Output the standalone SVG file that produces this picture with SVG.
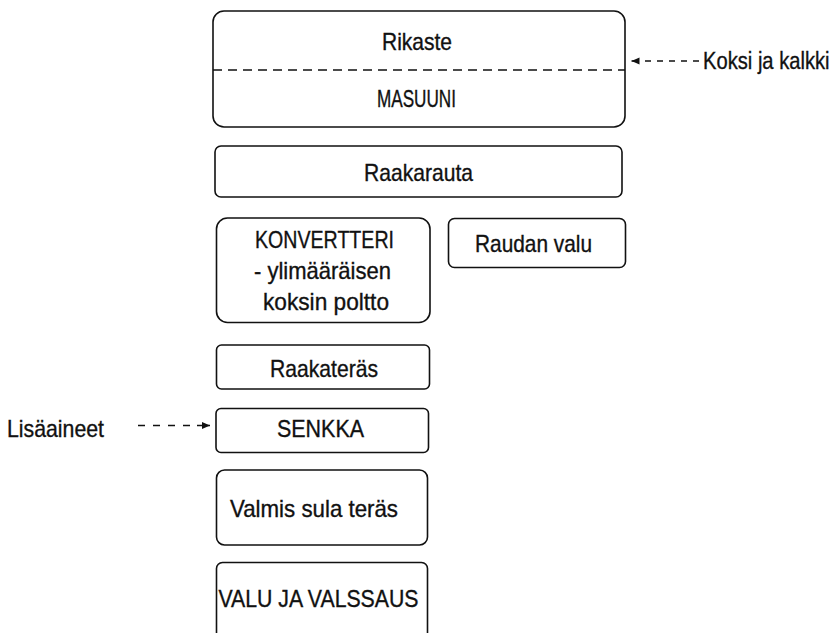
<svg xmlns="http://www.w3.org/2000/svg" width="840" height="633" viewBox="0 0 840 633">
<defs>
<style>
.box{fill:#fff;stroke:#111;stroke-width:1.6}
.lbl{font-family:"Liberation Sans",Arial,sans-serif;font-size:24px;fill:#111;stroke:#111;stroke-width:0.35}
.dash{fill:none;stroke:#111;stroke-width:1.5}
.solid{fill:none;stroke:#111;stroke-width:1.5}
</style>
<marker id="head" viewBox="0 0 8 8" refX="8" refY="4" markerWidth="8" markerHeight="8" markerUnits="userSpaceOnUse" orient="auto">
<path d="M0,0.5 L8,4 L0,7.5 Z" fill="#111"/>
</marker>
</defs>
<rect width="840" height="633" fill="#fff"/>

<g id="masuuni">
<rect class="box" x="213" y="11" width="412" height="116" rx="11"/>
<line class="dash" x1="213" y1="70" x2="625" y2="70" stroke-dasharray="9 6"/>
<text class="lbl" x="382" y="49.5" textLength="70" lengthAdjust="spacingAndGlyphs">Rikaste</text>
<text class="lbl" x="377" y="107" textLength="79" lengthAdjust="spacingAndGlyphs">MASUUNI</text>
</g>

<g id="raakarauta">
<rect class="box" x="215" y="146" width="407" height="51" rx="6"/>
<text class="lbl" x="364" y="181" textLength="109" lengthAdjust="spacingAndGlyphs">Raakarauta</text>
</g>

<g id="konvertteri">
<rect class="box" x="216.5" y="218" width="213.5" height="104.5" rx="11"/>
<text class="lbl" x="255" y="248" textLength="139" lengthAdjust="spacingAndGlyphs">KONVERTTERI</text>
<text class="lbl" x="254" y="279" textLength="137" lengthAdjust="spacingAndGlyphs">- ylimääräisen</text>
<text class="lbl" x="263" y="310" textLength="126" lengthAdjust="spacingAndGlyphs">koksin poltto</text>
</g>

<g id="raudan-valu">
<rect class="box" x="448.5" y="218.5" width="177" height="49" rx="6"/>
<text class="lbl" x="475" y="252" textLength="117" lengthAdjust="spacingAndGlyphs">Raudan valu</text>
</g>

<g id="raakateras">
<rect class="box" x="216.5" y="345" width="213" height="44" rx="5"/>
<text class="lbl" x="270" y="376.5" textLength="108" lengthAdjust="spacingAndGlyphs">Raakateräs</text>
</g>

<g id="senkka">
<rect class="box" x="216" y="408.5" width="212.5" height="44" rx="5"/>
<text class="lbl" x="277" y="436.5" textLength="87" lengthAdjust="spacingAndGlyphs">SENKKA</text>
</g>

<g id="valmis">
<rect class="box" x="216.5" y="470" width="211" height="75" rx="8"/>
<text class="lbl" x="230" y="517" textLength="168" lengthAdjust="spacingAndGlyphs">Valmis sula teräs</text>
</g>

<g id="valu-valssaus">
<rect class="box" x="216.5" y="562.5" width="211" height="82" rx="6"/>
<text class="lbl" x="218.5" y="606.5" textLength="200" lengthAdjust="spacingAndGlyphs">VALU JA VALSSAUS</text>
</g>

<g id="koksi-label">
<text class="lbl" x="0" y="0" transform="translate(703,69) scale(0.84,1)">Koksi ja kalkki</text>
</g>

<g id="lisaaineet-label">
<text class="lbl" x="7" y="436.5" textLength="97" lengthAdjust="spacingAndGlyphs">Lisäaineet</text>
</g>

<g id="connectors">
<path class="dash" d="M699,61 H645" stroke-dasharray="6 6"/>
<path class="solid" d="M639,61 H631.5" marker-end="url(#head)"/>
<path class="dash" d="M138,425.5 H190" stroke-dasharray="7 8"/>
<path class="solid" d="M197,425.5 H210" marker-end="url(#head)"/>
</g>
</svg>
